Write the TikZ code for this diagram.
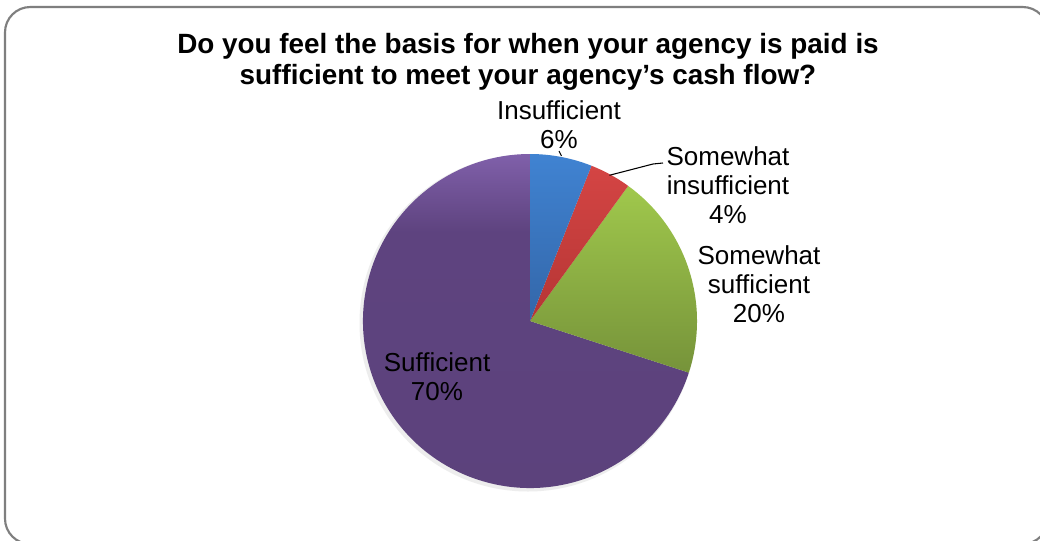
\documentclass[tikz,border=0pt]{standalone}
\usepackage{fontspec}
\setmainfont{Liberation Sans}
\definecolor{frame}{HTML}{7F7F7F}
\definecolor{blueT}{HTML}{4083D2}
\definecolor{blueB}{HTML}{3366A8}
\definecolor{redT}{HTML}{D44544}
\definecolor{redB}{HTML}{B53534}
\definecolor{greenT}{HTML}{A0C84C}
\definecolor{greenB}{HTML}{76933A}
\definecolor{purpT}{HTML}{8060AA}
\definecolor{purpM}{HTML}{5E437F}
\definecolor{purpB}{HTML}{5C427C}
\pgfdeclareverticalshading{purpshade}{100bp}{color(0bp)=(purpB); color(25bp)=(purpB); color(64bp)=(purpM); color(75bp)=(purpT); color(100bp)=(purpT)}
\tikzset{
  slice/.style={draw=none},
  lbl/.style={align=center, font=\fontsize{19.5pt}{21.75pt}\selectfont, inner sep=0pt},
  ttl/.style={align=center, font=\fontsize{20.9pt}{23.25pt}\selectfont\bfseries, inner sep=0pt},
  leader/.style={draw=black, line width=0.8pt}
}
\begin{document}
\begin{tikzpicture}[x=0.75pt,y=-0.75pt]
\useasboundingbox (0,0) rectangle (1040,540);
\clip (0,0) rectangle (1040,540);
\fill[white] (0,0) rectangle (1040,540);
\draw[frame, line width=1.6pt, rounded corners=19pt] (5,7) rectangle (1048,544);

\begin{scope}[shift={(530,321)}, x=0.75pt, y=0.75pt]
  \fill[black!7] (-2,-2) circle[radius=168.5];
  \path[slice, shading=purpshade]
    (0,0) -- (-18:167) arc[start angle=-18, end angle=-270, radius=167] -- cycle;
  \path[slice, top color=greenT, bottom color=greenB]
    (0,0) -- (54:167) arc[start angle=54, end angle=-18, radius=167] -- cycle;
  \path[slice, top color=redT, bottom color=redB]
    (0,0) -- (68.4:167) arc[start angle=68.4, end angle=54, radius=167] -- cycle;
  \path[slice, top color=blueT, bottom color=blueB]
    (0,0) -- (90:167) arc[start angle=90, end angle=68.4, radius=167] -- cycle;
  \coordinate (redmid) at (61.4:166);
  \coordinate (bluemid) at (79.2:168);
\end{scope}

\node[ttl] (title) at (528,62) {Do you feel the basis for when your agency is paid is\\sufficient to meet your agency’s cash flow?};

\node[lbl] (linsuf) at (559,125) {Insufficient\\6\%};
\node[lbl] (lsomins) at (728,185) {Somewhat\\insufficient\\4\%};
\node[lbl] (lsomsuf) at (759,284) {Somewhat\\sufficient\\20\%};
\node[lbl] (lsuf) at (437,377) {Sufficient\\70\%};

\coordinate (lbend) at (653,164);
\coordinate (lend) at (663,163);
\draw[leader] (redmid) -- (lbend) -- (lend);
\coordinate (bt) at (559,151);
\draw[leader] (bt) -- (bluemid);
\end{tikzpicture}
\end{document}
